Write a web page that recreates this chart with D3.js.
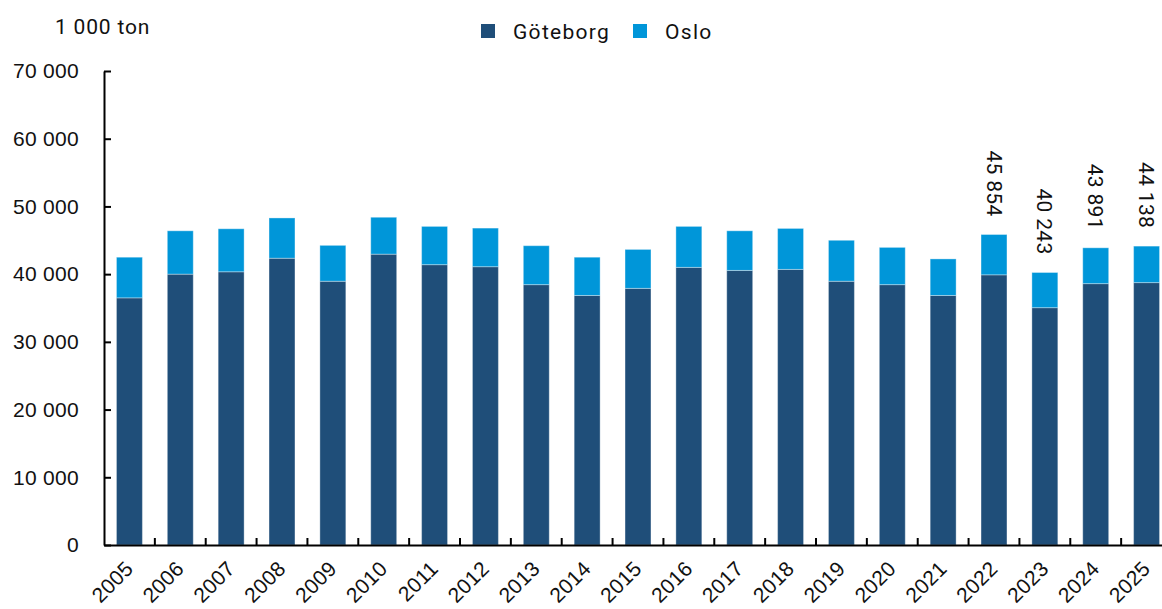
<!DOCTYPE html>
<html>
<head>
<meta charset="utf-8">
<script src="https://cdn.jsdelivr.net/npm/d3@7"></script>
<style>
  body { margin: 0; background: #fff; }
  svg { display: block; font-family: Roboto, "Noto Sans", sans-serif; }
</style>
</head>
<body>
<div id="chart"></div>
<script>
// Years on the x axis
const years = ["2005", "2006", "2007", "2008", "2009", "2010", "2011", "2012", "2013", "2014",
  "2015", "2016", "2017", "2018", "2019", "2020", "2021", "2022", "2023", "2024", "2025"];

// Series values, 1 000 ton
const goteborg = [36500, 40000, 40350, 42350, 38950, 42950, 41400, 41100, 38450, 36850,
  37900, 41000, 40550, 40700, 38950, 38450, 36850, 39900, 35050, 38600, 38750];
const oslo = [6000, 6400, 6350, 5950, 5300, 5450, 5650, 5700, 5750, 5650,
  5750, 6050, 5850, 6050, 6050, 5500, 5400, 5954, 5193, 5291, 5388];

// Totals printed above the last bars
const labelYears = ["2022", "2023", "2024", "2025"];

const yTicks = [0, 10000, 20000, 30000, 40000, 50000, 60000, 70000];
const seriesNames = ["Göteborg", "Oslo"];
const colors = ["#1f4e79", "#0096d9"];

const width = 1162, height = 609;
const margin = { top: 71, right: -10, bottom: 64, left: 104 };

const data = years.map((y, i) => ({ year: y, "Göteborg": goteborg[i], "Oslo": oslo[i] }));
const stacked = d3.stack().keys(seriesNames)(data);

const svg = d3.select("#chart")
  .append("svg")
  .attr("width", width)
  .attr("height", height);

const x = d3.scaleBand()
  .domain(years)
  .range([margin.left, width - margin.right])
  .paddingInner(0.49)
  .paddingOuter(0.245);

const y = d3.scaleLinear()
  .domain([0, 70000])
  .range([height - margin.bottom, margin.top]);

const fmt = d => d3.format(",")(d).replace(/,/g, " ");

// Bars
svg.append("g")
  .selectAll("g")
  .data(stacked)
  .join("g")
  .attr("fill", (d, i) => colors[i])
  .selectAll("rect")
  .data(d => d)
  .join("rect")
  .attr("x", d => x(d.data.year))
  .attr("y", d => y(d[1]))
  .attr("width", x.bandwidth())
  .attr("height", d => y(d[0]) - y(d[1]))
  .attr("stroke", "rgba(255,255,255,0.35)")
  .attr("stroke-width", 1);

// Y axis
const yAxis = svg.append("g")
  .attr("transform", `translate(${margin.left},0)`)
  .call(d3.axisLeft(y).tickValues(yTicks).tickFormat(fmt).tickSizeInner(-7).tickSizeOuter(0).tickPadding(25));
yAxis.select(".domain").attr("stroke", "#000").attr("stroke-width", 2);
yAxis.selectAll(".tick line").attr("stroke", "#000").attr("stroke-width", 2);
yAxis.selectAll("text").attr("font-size", 21).attr("letter-spacing", 0.3).attr("fill", "#111");

// X axis, ticks between the bars
const xAxis = svg.append("g")
  .attr("transform", `translate(0,${y(0)})`)
  .call(d3.axisBottom(x).tickSize(0).tickPadding(0));
xAxis.select(".domain").attr("stroke", "#000").attr("stroke-width", 2);
xAxis.selectAll(".tick line").remove();
xAxis.selectAll(".tick text")
  .attr("font-size", 21)
  .attr("letter-spacing", 0.3)
  .attr("fill", "#111")
  .attr("text-anchor", "end")
  .attr("dy", null)
  .attr("transform", "translate(5,25) rotate(-45)")
  .attr("x", 0)
  .attr("y", 0);
xAxis.selectAll(".sep")
  .data(years.slice(1))
  .join("line")
  .attr("x1", d => x(d) - x.step() * x.paddingInner() / 2)
  .attr("x2", d => x(d) - x.step() * x.paddingInner() / 2)
  .attr("y1", 0)
  .attr("y2", -7)
  .attr("stroke", "#000")
  .attr("stroke-width", 2);

// Value labels on the last bars
svg.append("g")
  .selectAll("text")
  .data(data.filter(d => labelYears.includes(d.year)))
  .join("text")
  .attr("transform", d => `translate(${x(d.year) + x.bandwidth() / 2},${y(d["Göteborg"] + d["Oslo"]) - 18}) rotate(90)`)
  .attr("text-anchor", "end")
  .attr("dy", "0.35em")
  .attr("font-size", 21)
  .attr("letter-spacing", 0.3)
  .attr("fill", "#111")
  .text(d => fmt(d["Göteborg"] + d["Oslo"]));

// Unit label
svg.append("text")
  .attr("x", 55)
  .attr("y", 34)
  .attr("font-size", 21)
  .attr("letter-spacing", 0.8)
  .attr("fill", "#111")
  .text("1 000 ton");

// Legend
const legend = svg.append("g")
  .selectAll("g")
  .data(seriesNames)
  .join("g")
  .attr("transform", (d, i) => `translate(${[481, 633][i]},24)`);
legend.append("rect")
  .attr("width", 14)
  .attr("height", 14)
  .attr("fill", (d, i) => colors[i]);
legend.append("text")
  .attr("x", 32)
  .attr("y", 15)
  .attr("font-size", 21)
  .attr("letter-spacing", 1.3)
  .attr("fill", "#111")
  .text(d => d);
</script>
</body>
</html>
